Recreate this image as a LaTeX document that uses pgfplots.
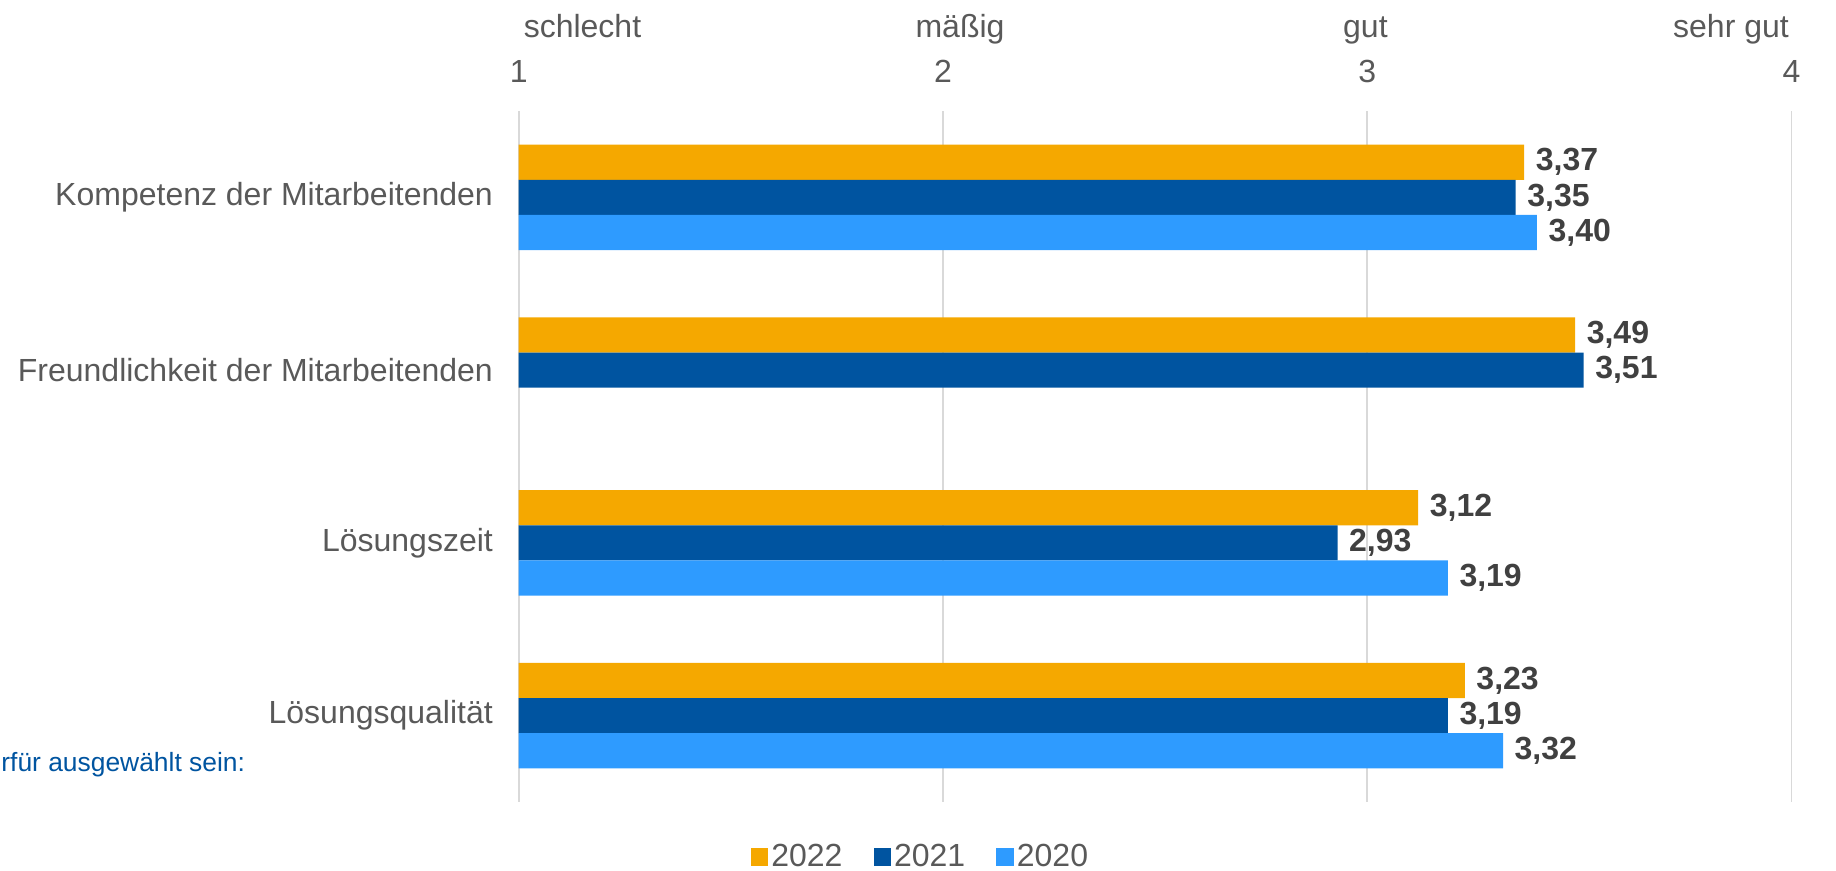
\documentclass[border=0pt]{standalone}
\usepackage{fontspec}
\setmainfont{Liberation Sans}
\usepackage{pgfplots}
\pgfplotsset{compat=1.18}
\definecolor{c22}{RGB}{245,168,0}
\definecolor{c21}{RGB}{0,84,160}
\definecolor{c20}{RGB}{46,155,255}
\definecolor{txt}{RGB}{89,89,89}
\definecolor{val}{RGB}{64,64,64}
\definecolor{gridc}{RGB}{217,217,217}
\newcommand{\fs}{\fontsize{16}{19.2}\selectfont}
\begin{document}
\begin{tikzpicture}
\useasboundingbox (0,0) rectangle (918pt,435.5pt);
\begin{axis}[
  at={(259.35pt,34.5pt)}, anchor=south west,
  scale only axis, width=636.4pt, height=345.5pt,
  xbar=0pt, bar width=17.6pt,
  xmin=1, xmax=4, ymin=-0.5, ymax=3.5, y dir=reverse,
  xtick={1,2,3,4}, xticklabel pos=upper,
  ytick={0,1,2,3},
  yticklabels={Kompetenz der Mitarbeitenden, Freundlichkeit der Mitarbeitenden, Lösungszeit, Lösungsqualität},
  major tick length=0pt, axis line style={draw=none},
  xmajorgrids, grid style={draw=gridc, line width=0.9pt},
  /pgf/number format/assume math mode=true,
  ticklabel style={font=\fs, text=txt},
  xticklabel style={anchor=base, yshift=14.5pt},
  yticklabel style={xshift=-9.4pt},
  point meta=x,
  nodes near coords={\pgfmathprintnumber[use comma, fixed, fixed zerofill, precision=2]{\pgfplotspointmeta}},
  nodes near coords style={font=\fs\bfseries, text=val, anchor=west, xshift=2.3pt},
  legend style={at={(0.316,-0.0795)}, anchor=center, legend columns=3, draw=none, fill=none,
    inner sep=0pt, nodes={inner sep=1.5pt},
    font=\fs, text=txt, /tikz/every even column/.append style={column sep=14pt}},
  legend image code/.code={\fill[#1, draw=none] (0pt,-4.4pt) rectangle (8.8pt,4.4pt);},
]
\addplot[fill=c22, draw=none, bar shift=17.6pt] coordinates {(3.37,0) (3.49,1) (3.12,2) (3.23,3)};
\addplot[fill=c21, draw=none, bar shift=0pt] coordinates {(3.35,0) (3.51,1) (2.93,2) (3.19,3)};
\addplot[fill=c20, draw=none, bar shift=-17.6pt] coordinates {(3.40,0) (3.19,2) (3.32,3)};
\legend{2022, 2021, 2020}
\end{axis}
\node[anchor=base west, font=\fs, text=txt, inner sep=0pt] at (261.7pt,416.7pt) {schlecht};
\node[anchor=base, font=\fs, text=txt, inner sep=0pt] at (480pt,416.7pt) {mäßig};
\node[anchor=base, font=\fs, text=txt, inner sep=0pt] at (682.7pt,416.7pt) {gut};
\node[anchor=base east, font=\fs, text=txt, inner sep=0pt] at (894.6pt,416.7pt) {sehr gut};
\node[anchor=west, font=\fontsize{13.2}{15.8}\selectfont, text=c21, inner sep=0pt] at (0.5pt,53.2pt) {rfür ausgewählt sein:};
\end{tikzpicture}
\end{document}
